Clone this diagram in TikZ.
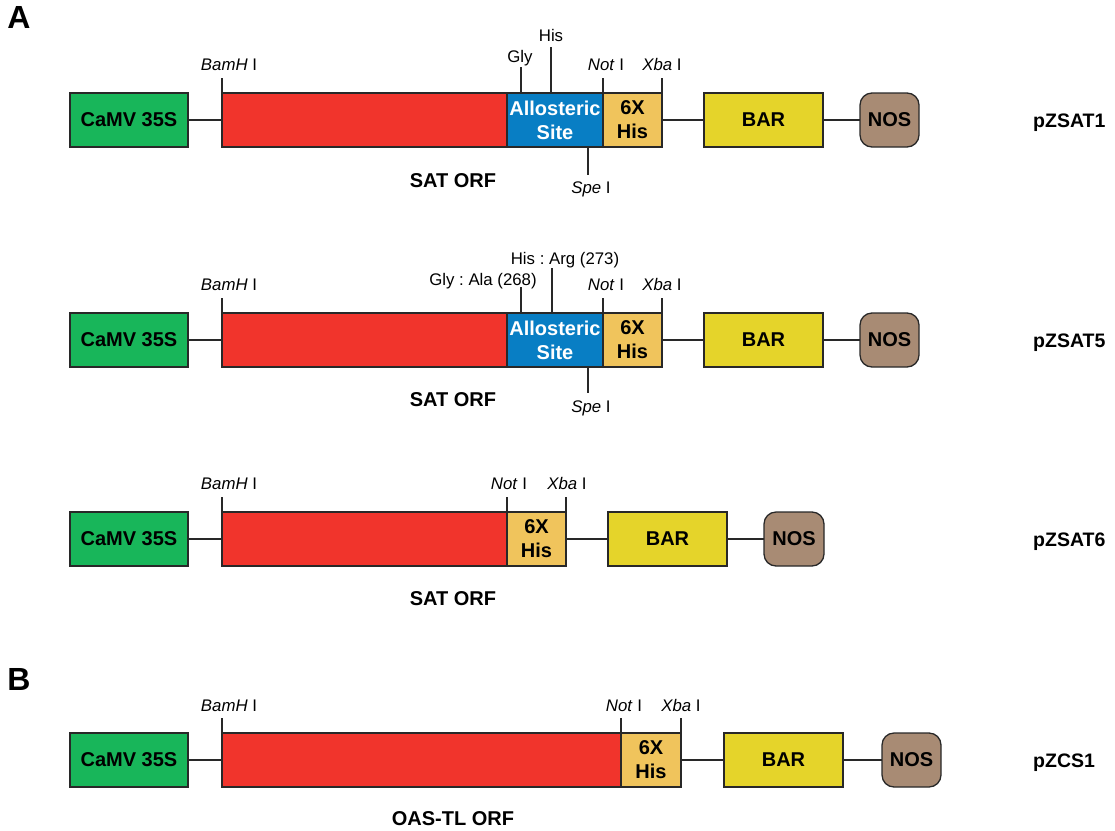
\documentclass[tikz,border=0pt]{standalone}
\usepackage{fontspec}
\setmainfont{Liberation Sans}
\frenchspacing
\definecolor{promoter}{RGB}{24,182,90}
\definecolor{orfred}{RGB}{241,52,44}
\definecolor{allo}{RGB}{8,126,196}
\definecolor{histag}{RGB}{240,196,92}
\definecolor{barcol}{RGB}{229,212,42}
\definecolor{noscol}{RGB}{168,139,116}
\definecolor{edge}{RGB}{40,40,40}
\begin{document}
\begin{tikzpicture}[x=1pt,y=-1pt,
  part/.style={draw=edge, line width=1.3pt, anchor=north west, outer sep=0pt,
    minimum height=54pt, inner sep=0pt, align=center,
    font=\fontsize{20}{24}\selectfont\bfseries},
  term/.style={part, rounded corners=12pt},
  link/.style={draw=edge, line width=1.2pt},
  tick/.style={draw=edge, line width=1.1pt},
  enz/.style={anchor=base, inner sep=0pt, font=\fontsize{16.8}{20}\selectfont},
  orflab/.style={anchor=base, inner sep=0pt, font=\fontsize{20}{24}\selectfont\bfseries},
  plab/.style={anchor=base west, inner sep=0pt, font=\fontsize{19.5}{22}\selectfont\bfseries},
  panel/.style={inner sep=0pt, font=\fontsize{32}{36}\selectfont\bfseries}]
\useasboundingbox (0,0) rectangle (1115,830);

\node[panel] (pa) at (19,17) {A};
\node[panel] (pb) at (19,679) {B};

% pZSAT1
\node[part, fill=promoter, minimum width=118pt] (camv1) at (70,93) {CaMV 35S};
\node[part, fill=orfred, minimum width=285pt] (orf1) at (222,93) {};
\node[part, fill=allo, text=white, minimum width=96pt] (allo1) at (507,93) {Allosteric\\Site};
\node[part, fill=histag, minimum width=59pt] (his1) at (603,93) {6X\\His};
\node[part, fill=barcol, minimum width=119pt] (bar1) at (704,93) {BAR};
\node[term, fill=noscol, minimum width=59pt] (nos1) at (860,93) {NOS};
\draw[link] (camv1) -- (orf1);
\draw[link] (his1) -- (bar1);
\draw[link] (bar1) -- (nos1);
\coordinate (bam1) at (222,78);
\coordinate (gly1) at (521,67);
\coordinate (hist1) at (551,47);
\coordinate (not1) at (603,78);
\coordinate (xba1) at (662,78);
\coordinate (spe1) at (588,175);
\draw[tick] (orf1.north west) -- (bam1);
\draw[tick] (gly1 |- allo1.north) -- (gly1);
\draw[tick] (hist1 |- allo1.north) -- (hist1);
\draw[tick] (his1.north west) -- (not1);
\draw[tick] (his1.north east) -- (xba1);
\draw[tick] (spe1 |- allo1.south) -- (spe1);
\node[enz] (bamlab1) at (229,70) {\textit{BamH} I};
\node[enz] (glylab1) at (520,62) {Gly};
\node[enz] (hislab1) at (551,41) {His};
\node[enz] (notlab1) at (606,70) {\textit{Not} I};
\node[enz] (xbalab1) at (662,70) {\textit{Xba} I};
\node[enz] (spelab1) at (591,193) {\textit{Spe} I};
\node[orflab] (orfname1) at (453,187) {SAT ORF};
\node[plab] (name1) at (1033,127) {pZSAT1};

% pZSAT5
\node[part, fill=promoter, minimum width=118pt] (camv2) at (70,313) {CaMV 35S};
\node[part, fill=orfred, minimum width=285pt] (orf2) at (222,313) {};
\node[part, fill=allo, text=white, minimum width=96pt] (allo2) at (507,313) {Allosteric\\Site};
\node[part, fill=histag, minimum width=59pt] (his2) at (603,313) {6X\\His};
\node[part, fill=barcol, minimum width=119pt] (bar2) at (704,313) {BAR};
\node[term, fill=noscol, minimum width=59pt] (nos2) at (860,313) {NOS};
\draw[link] (camv2) -- (orf2);
\draw[link] (his2) -- (bar2);
\draw[link] (bar2) -- (nos2);
\coordinate (bam2) at (222,298);
\coordinate (gly2) at (521,287);
\coordinate (hist2) at (552,268);
\coordinate (not2) at (603,298);
\coordinate (xba2) at (662,298);
\coordinate (spe2) at (588,393);
\draw[tick] (orf2.north west) -- (bam2);
\draw[tick] (gly2 |- allo2.north) -- (gly2);
\draw[tick] (hist2 |- allo2.north) -- (hist2);
\draw[tick] (his2.north west) -- (not2);
\draw[tick] (his2.north east) -- (xba2);
\draw[tick] (spe2 |- allo2.south) -- (spe2);
\node[enz] (bamlab2) at (229,290) {\textit{BamH} I};
\node[enz] (glylab2) at (483,285) {Gly : Ala (268)};
\node[enz] (hislab2) at (565,264) {His : Arg (273)};
\node[enz] (notlab2) at (606,290) {\textit{Not} I};
\node[enz] (xbalab2) at (662,290) {\textit{Xba} I};
\node[enz] (spelab2) at (591,412) {\textit{Spe} I};
\node[orflab] (orfname2) at (453,406) {SAT ORF};
\node[plab] (name2) at (1033,347) {pZSAT5};

% pZSAT6
\node[part, fill=promoter, minimum width=118pt] (camv3) at (70,512) {CaMV 35S};
\node[part, fill=orfred, minimum width=285pt] (orf3) at (222,512) {};
\node[part, fill=histag, minimum width=59pt] (his3) at (507,512) {6X\\His};
\node[part, fill=barcol, minimum width=119pt] (bar3) at (608,512) {BAR};
\node[term, fill=noscol, minimum width=60pt] (nos3) at (764,512) {NOS};
\draw[link] (camv3) -- (orf3);
\draw[link] (his3) -- (bar3);
\draw[link] (bar3) -- (nos3);
\coordinate (bam3) at (222,497);
\coordinate (not3) at (507,497);
\coordinate (xba3) at (566,497);
\draw[tick] (orf3.north west) -- (bam3);
\draw[tick] (his3.north west) -- (not3);
\draw[tick] (his3.north east) -- (xba3);
\node[enz] (bamlab3) at (229,489) {\textit{BamH} I};
\node[enz] (notlab3) at (509,489) {\textit{Not} I};
\node[enz] (xbalab3) at (567,489) {\textit{Xba} I};
\node[orflab] (orfname3) at (453,605) {SAT ORF};
\node[plab] (name3) at (1033,546) {pZSAT6};

% pZCS1
\node[part, fill=promoter, minimum width=118pt] (camv4) at (70,733) {CaMV 35S};
\node[part, fill=orfred, minimum width=399pt] (orf4) at (222,733) {};
\node[part, fill=histag, minimum width=60pt] (his4) at (621,733) {6X\\His};
\node[part, fill=barcol, minimum width=119pt] (bar4) at (724,733) {BAR};
\node[term, fill=noscol, minimum width=59pt] (nos4) at (882,733) {NOS};
\draw[link] (camv4) -- (orf4);
\draw[link] (his4) -- (bar4);
\draw[link] (bar4) -- (nos4);
\coordinate (bam4) at (222,718);
\coordinate (not4) at (621,718);
\coordinate (xba4) at (681,718);
\draw[tick] (orf4.north west) -- (bam4);
\draw[tick] (his4.north west) -- (not4);
\draw[tick] (his4.north east) -- (xba4);
\node[enz] (bamlab4) at (229,711) {\textit{BamH} I};
\node[enz] (notlab4) at (624,711) {\textit{Not} I};
\node[enz] (xbalab4) at (681,711) {\textit{Xba} I};
\node[orflab] (orfname4) at (453,825) {OAS-TL ORF};
\node[plab] (name4) at (1033,767) {pZCS1};
\end{tikzpicture}
\end{document}
